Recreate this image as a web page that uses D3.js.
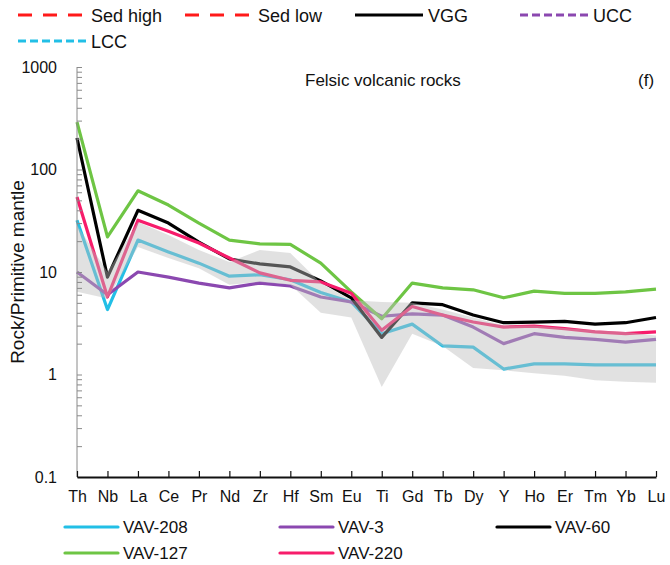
<!DOCTYPE html>
<html>
<head>
<meta charset="utf-8">
<script src="https://cdn.jsdelivr.net/npm/d3@7/dist/d3.min.js"></script>
<style>
  html, body { margin: 0; padding: 0; background: #fff; }
  svg { display: block; font-family: "Liberation Sans", Arial, sans-serif; }
</style>
</head>
<body>
<svg id="chart" width="670" height="565"></svg>
<script>
// Primitive-mantle normalised multi-element pattern, felsic volcanic rocks
const elements = ["Th","Nb","La","Ce","Pr","Nd","Zr","Hf","Sm","Eu","Ti","Gd","Tb","Dy","Y","Ho","Er","Tm","Yb","Lu"];

const vav208 = [32, 4.3, 20.5, 15.7, 12.2, 9.1, 9.4, 8.4, 6.3, 5.1, 2.5, 3.1, 1.9, 1.85, 1.13, 1.27, 1.27, 1.24, 1.24, 1.24];
const vav3   = [10, 6.0, 10, 8.9, 7.8, 7.0, 7.8, 7.3, 5.7, 5.1, 3.7, 3.9, 3.8, 2.9, 2.0, 2.5, 2.3, 2.2, 2.07, 2.2];
const vav60  = [203, 8.9, 40, 30, 19.6, 13.4, 12.0, 11.2, 8.2, 5.6, 2.3, 5.0, 4.8, 3.8, 3.2, 3.25, 3.3, 3.1, 3.2, 3.6];
const vav127 = [290, 22, 62, 45, 30, 20.5, 18.8, 18.6, 12.2, 6.4, 3.5, 7.8, 7.0, 6.7, 5.6, 6.5, 6.2, 6.2, 6.4, 6.8];
const vav220 = [54, 5.7, 32, 25, 19.2, 13.7, 9.8, 8.3, 8.0, 6.2, 2.7, 4.6, 3.8, 3.25, 2.9, 2.97, 2.8, 2.6, 2.5, 2.6];

// Shaded reference field (upper and lower bounds)
const fieldHigh = [28.7, 10, 30.7, 23, 16.4, 12.5, 16.4, 15.3, 7.8, 5.3, 5.1, 5.0, 4.3, 3.6, 3.0, 3.0, 2.84, 2.7, 2.6, 2.4];
const fieldLow  = [6.4, 5.5, 17.5, 13.7, 10.9, 7.5, 8.0, 7.5, 4.0, 3.6, 0.755, 2.5, 1.9, 1.16, 1.1, 1.03, 0.97, 0.88, 0.85, 0.83];

const sampleNames  = ["VAV-208", "VAV-3", "VAV-60", "VAV-127", "VAV-220"];
const sampleValues = [vav208, vav3, vav60, vav127, vav220];
const sampleColors = ["#22bfe6", "#8b48b0", "#000000", "#6ec544", "#f71c6b"];

const refNames  = ["Sed high", "Sed low", "VGG", "UCC", "LCC"];
const refColors = ["#ff1a1a", "#ff1a1a", "#000000", "#8b48b0", "#22bfe6"];
const refDash   = ["14,11", "14,11", null, "8,4", "8,4"];

const yTickValues = [0.1, 1, 10, 100, 1000];
const yTickLabels = ["0.1", "1", "10", "100", "1000"];

const svg = d3.select("#chart");
const x = d3.scalePoint().domain(elements).range([77, 656]);
const y = d3.scaleLog().domain([0.1, 1000]).range([477, 67]);

// sample patterns
const line = d3.line().x((d, i) => x(elements[i])).y(d => y(d));
const gLines = svg.append("g");
sampleValues.forEach((vals, k) => {
  gLines.append("path")
    .attr("d", line(vals))
    .attr("fill", "none")
    .attr("stroke", sampleColors[k])
    .attr("stroke-width", 3.2)
    .attr("stroke-linejoin", "round");
});

// translucent field over the patterns
const area = d3.area()
  .x((d, i) => x(elements[i]))
  .y0((d, i) => y(fieldLow[i]))
  .y1((d, i) => y(fieldHigh[i]));
svg.append("path")
  .attr("d", area(fieldHigh))
  .attr("fill", "#bdbdbd")
  .attr("fill-opacity", 0.45);

// y axis: labels on the left, minor ticks pointing inward
const minor = [];
for (let e = -1; e < 3; e++) for (let m = 1; m <= 9; m++) minor.push(m * Math.pow(10, e));
minor.push(1000);

const yMinor = svg.append("g").attr("transform", "translate(77,0)")
  .call(d3.axisRight(y).tickValues(minor).tickSize(5).tickFormat(""));
yMinor.select(".domain").attr("stroke", "#8a8a8a").attr("d", "M0,67V477");
yMinor.selectAll(".tick line").attr("stroke", "#8a8a8a");

const yLab = svg.append("g").attr("transform", "translate(77,0)")
  .call(d3.axisLeft(y).tickValues(yTickValues).tickSize(0).tickPadding(20)
    .tickFormat((d, i) => yTickLabels[i]));
yLab.select(".domain").remove();
yLab.selectAll("text").attr("font-size", 16).attr("fill", "#111")
  .attr("font-family", "Liberation Sans, Arial, sans-serif");

// x axis: ticks pointing up
const xAx = svg.append("g").attr("transform", "translate(0,477)")
  .call(d3.axisBottom(x).tickSizeInner(-6).tickSizeOuter(0).tickPadding(14));
xAx.select(".domain").attr("stroke", "#111").attr("stroke-width", 1.8);
xAx.selectAll(".tick line").attr("stroke", "#111").attr("stroke-width", 1.2);
xAx.selectAll("text").attr("font-size", 16).attr("fill", "#111")
  .attr("font-family", "Liberation Sans, Arial, sans-serif");

// y title
svg.append("text")
  .attr("transform", "translate(24,272) rotate(-90)")
  .attr("text-anchor", "middle")
  .attr("font-size", 19).attr("fill", "#111")
  .text("Rock/Primitive mantle");

// panel title and letter
svg.append("text").attr("x", 305).attr("y", 86).attr("font-size", 17).attr("fill", "#111")
  .text("Felsic volcanic rocks");
svg.append("text").attr("x", 638).attr("y", 86).attr("font-size", 17).attr("fill", "#111")
  .text("(f)");

// reference legend at the top
const refPos = [[18, 15], [185, 15], [355, 15], [520, 15], [18, 41]];
refNames.forEach((name, k) => {
  const [lx, ly] = refPos[k];
  const ln = svg.append("line")
    .attr("x1", lx).attr("x2", lx + 68).attr("y1", ly).attr("y2", ly)
    .attr("stroke", refColors[k]).attr("stroke-width", 3.2);
  if (refDash[k]) ln.attr("stroke-dasharray", refDash[k]);
  svg.append("text").attr("x", lx + 73).attr("y", ly + 6.5)
    .attr("font-size", 18).attr("fill", "#111").text(name);
});

// sample legend at the bottom
const samplePos = [[65, 527], [280, 527], [497, 527], [65, 553], [280, 553]];
sampleNames.forEach((name, k) => {
  const [lx, ly] = samplePos[k];
  svg.append("line")
    .attr("x1", lx).attr("x2", lx + 53).attr("y1", ly).attr("y2", ly)
    .attr("stroke", sampleColors[k]).attr("stroke-width", 3.2)
    .attr("stroke-linecap", "round");
  svg.append("text").attr("x", lx + 58).attr("y", ly + 6)
    .attr("font-size", 17).attr("fill", "#111").text(name);
});
</script>
</body>
</html>
